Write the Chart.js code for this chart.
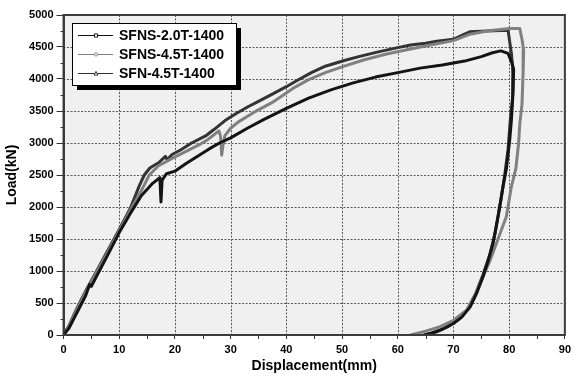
<!DOCTYPE html>
<html>
<head>
<meta charset="utf-8">
<script src="https://cdn.jsdelivr.net/npm/chart.js@4/dist/chart.umd.min.js"></script>
<style>
  html, body { margin: 0; padding: 0; background: #fff; overflow: hidden; }
  #wrap { width: 575px; height: 378px; }
</style>
</head>
<body>
<div id="wrap"><canvas id="c" width="575" height="378"></canvas></div>
<script>
// Load–displacement curves of three specimens
const seriesNames = ['SFNS-2.0T-1400', 'SFNS-4.5T-1400', 'SFN-4.5T-1400'];

const s1Disp = [0,1,2,3,4,4.7,5,6,8,10,12,14,16,17.3,17.5,17.7,18.5,20,22,24,26,28,30,33,36,40,44,48,52,56,60,64,68,72,75,77,78.5,79.8,80.5,80.8,80.7,80.4,80.1,79.5,78.9,78,77.1,76.2,75.3,74.2,73,71.5,70,68,66,64.7];
const s1Load = [0,110,280,450,620,790,760,930,1260,1600,1900,2180,2370,2460,2080,2420,2520,2560,2680,2790,2900,3000,3080,3230,3370,3540,3700,3830,3940,4030,4100,4170,4220,4280,4350,4410,4440,4400,4250,4150,3800,3360,3050,2600,2320,1850,1430,1150,910,660,440,280,180,90,30,0];

const s2Disp = [0,1,2,3,4,5,6,8,10,12,14,15.4,17,19.5,22,24.3,26,27.9,28.2,28.4,28.6,29,30,31.4,34,37.4,40,41.5,44,47,50.4,54,58,62.3,67,70,73,76,80,81.9,82.3,82.6,82.5,82.3,81.9,81.7,81.2,80.4,79.5,77.7,76.5,75.3,74,72.4,70,67.6,65,62.3];
const s2Load = [0,140,320,500,670,830,990,1300,1630,1950,2260,2500,2640,2760,2870,2970,3060,3190,3100,2810,2950,3120,3230,3330,3470,3630,3780,3870,3990,4100,4200,4300,4390,4470,4550,4600,4700,4750,4790,4790,4620,4450,4100,3600,3300,3000,2600,2320,1850,1430,1150,910,650,390,230,130,60,0];

const s3Disp = [0,1,2,3,4,5,6,8,10,12,13.6,14.5,15.5,17.2,18.3,18.6,19.5,21,23,25.5,27,29,31,33.2,35,37.4,40,42,44.5,47,50.4,53,56.3,60,62.3,65,67,70,71.5,73,76,79.8,80.4,80.7,80.6,80.2,79.8,79.2,78.5,77.5,76.5,75.3,74,72.5,71,69,67,65];
const s3Load = [0,150,340,520,690,850,1010,1330,1650,1980,2330,2500,2610,2700,2790,2740,2820,2890,3000,3110,3210,3350,3460,3570,3650,3760,3880,3980,4100,4200,4290,4350,4420,4490,4530,4560,4590,4620,4680,4740,4750,4760,4400,4100,3700,3360,2900,2500,2100,1600,1250,940,650,400,250,130,50,0];

const xTicks = [0,10,20,30,40,50,60,70,80,90];
const yTicks = [0,500,1000,1500,2000,2500,3000,3500,4000,4500,5000];

const toPoints = (xs, ys) => xs.map((x, i) => ({ x: x, y: ys[i] }));

const lineColors = ['#141414', '#808080', '#333333'];
const markerShapes = ['rect', 'circle', 'triangle'];

const FONT = "'Liberation Sans', Arial, Helvetica, sans-serif";

// Grid and plot background (painted beneath the curves), frame, minor ticks, boxed legend
const framePlugin = {
  id: 'frame',
  afterDraw(chart) {
    const { ctx, chartArea: a, scales } = chart;
    const xs = scales.x, ys = scales.y;

    ctx.save();
    ctx.globalCompositeOperation = 'destination-over';
    ctx.strokeStyle = '#5a5a5a';
    ctx.lineWidth = 1;
    ctx.setLineDash([2, 1.5]);
    ctx.beginPath();
    xTicks.forEach(v => {
      if (v <= xs.min || v >= xs.max) return;
      const px = Math.round(xs.getPixelForValue(v)) + 0.5;
      ctx.moveTo(px, a.top);
      ctx.lineTo(px, a.bottom);
    });
    yTicks.forEach(v => {
      if (v <= ys.min || v >= ys.max) return;
      const py = Math.round(ys.getPixelForValue(v)) + 0.5;
      ctx.moveTo(a.left, py);
      ctx.lineTo(a.right, py);
    });
    ctx.stroke();
    ctx.setLineDash([]);
    ctx.fillStyle = '#f0f0f0';
    ctx.fillRect(a.left, a.top, a.right - a.left, a.bottom - a.top);
    ctx.restore();

    ctx.save();
    // frame
    ctx.strokeStyle = '#3c3c3c';
    ctx.lineWidth = 2;
    ctx.beginPath();
    ctx.moveTo(a.left, a.bottom);
    ctx.lineTo(a.left, a.top);
    ctx.lineTo(a.right, a.top);
    ctx.lineTo(a.right, a.bottom);
    ctx.lineTo(a.left, a.bottom);
    ctx.stroke();
    // minor ticks
    ctx.strokeStyle = '#333';
    ctx.lineWidth = 1;
    ctx.beginPath();
    for (let v = 5; v < 90; v += 10) {
      const px = Math.round(xs.getPixelForValue(v)) + 0.5;
      ctx.moveTo(px, a.bottom);
      ctx.lineTo(px, a.bottom + 4);
    }
    for (let v = 250; v < 5000; v += 500) {
      const py = Math.round(ys.getPixelForValue(v)) + 0.5;
      ctx.moveTo(a.left - 3, py);
      ctx.lineTo(a.left, py);
    }
    ctx.stroke();

    // legend box
    const bx = 72, by = 23, bw = 164, bh = 62;
    ctx.fillStyle = '#000';
    ctx.fillRect(bx + 5, by + 5, bw, bh);
    ctx.fillStyle = '#fff';
    ctx.fillRect(bx, by, bw, bh);
    ctx.strokeStyle = '#000';
    ctx.lineWidth = 1;
    ctx.strokeRect(bx + 0.5, by + 0.5, bw, bh);
    chart.data.datasets.forEach((ds, i) => {
      const y = by + 12 + i * 19;
      ctx.strokeStyle = ds.borderColor;
      ctx.lineWidth = 1;
      ctx.beginPath();
      ctx.moveTo(78, y + 0.5);
      ctx.lineTo(113, y + 0.5);
      ctx.stroke();
      // marker
      const mx = 96, r = 1.6;
      ctx.beginPath();
      if (markerShapes[i] === 'rect') {
        ctx.rect(mx - r, y - r + 0.5, 2 * r, 2 * r);
      } else if (markerShapes[i] === 'circle') {
        ctx.arc(mx, y + 0.5, r, 0, Math.PI * 2);
      } else {
        ctx.moveTo(mx, y - r);
        ctx.lineTo(mx + r + 0.4, y + r + 0.5);
        ctx.lineTo(mx - r - 0.4, y + r + 0.5);
        ctx.closePath();
      }
      ctx.fillStyle = '#fff';
      ctx.fill();
      ctx.stroke();
      ctx.fillStyle = '#000';
      ctx.font = 'bold 14px ' + FONT;
      ctx.textAlign = 'left';
      ctx.textBaseline = 'middle';
      ctx.fillText(ds.label, 119, y + 1);
    });
    ctx.restore();
  }
};

const datasets = [
  { label: seriesNames[0], data: toPoints(s1Disp, s1Load), borderColor: lineColors[0] },
  { label: seriesNames[1], data: toPoints(s2Disp, s2Load), borderColor: lineColors[1] },
  { label: seriesNames[2], data: toPoints(s3Disp, s3Load), borderColor: lineColors[2] }
].map(d => Object.assign(d, {
  showLine: true, borderWidth: 3, pointRadius: 0, tension: 0,
  borderJoinStyle: 'round', borderCapStyle: 'round', fill: false
}));

const gridStyle = (len) => ({
  display: true, drawOnChartArea: false, drawTicks: true,
  color: '#555555', lineWidth: 1, tickLength: len,
  tickColor: '#333', tickWidth: 1
});

new Chart(document.getElementById('c'), {
  type: 'scatter',
  data: { datasets },
  options: {
    responsive: false,
    animation: false,
    layout: { padding: { top: 15, left: 0, right: 0, bottom: 0 } },
    plugins: { legend: { display: false }, tooltip: { enabled: false } },
    scales: {
      x: {
        type: 'linear', min: 0, max: 90,
        afterBuildTicks: s => { s.ticks = xTicks.map(v => ({ value: v })); },
        afterFit: s => { s.height = 43; },
        ticks: { color: '#000', font: { family: FONT, size: 11, weight: 'bold' }, padding: 4, maxRotation: 0,
                 callback: v => String(v) },
        grid: gridStyle(4),
        border: { display: true, color: '#3c3c3c', width: 2 },
        title: { display: true, text: 'Displacement(mm)', color: '#000', font: { family: FONT, size: 14, weight: 'bold' }, padding: { top: 0, bottom: 3 } }
      },
      y: {
        type: 'linear', min: 0, max: 5000,
        afterBuildTicks: s => { s.ticks = yTicks.map(v => ({ value: v })); },
        afterFit: s => { s.width = 63.5; },
        ticks: { color: '#000', font: { family: FONT, size: 11, weight: 'bold' }, padding: 3,
                 callback: v => String(v) },
        grid: gridStyle(7),
        border: { display: true, color: '#3c3c3c', width: 2 },
        title: { display: true, text: 'Load(kN)', color: '#000', font: { family: FONT, size: 14, weight: 'bold' }, padding: { top: 4, bottom: 0 } }
      }
    }
  },
  plugins: [framePlugin]
});
</script>
</body>
</html>
